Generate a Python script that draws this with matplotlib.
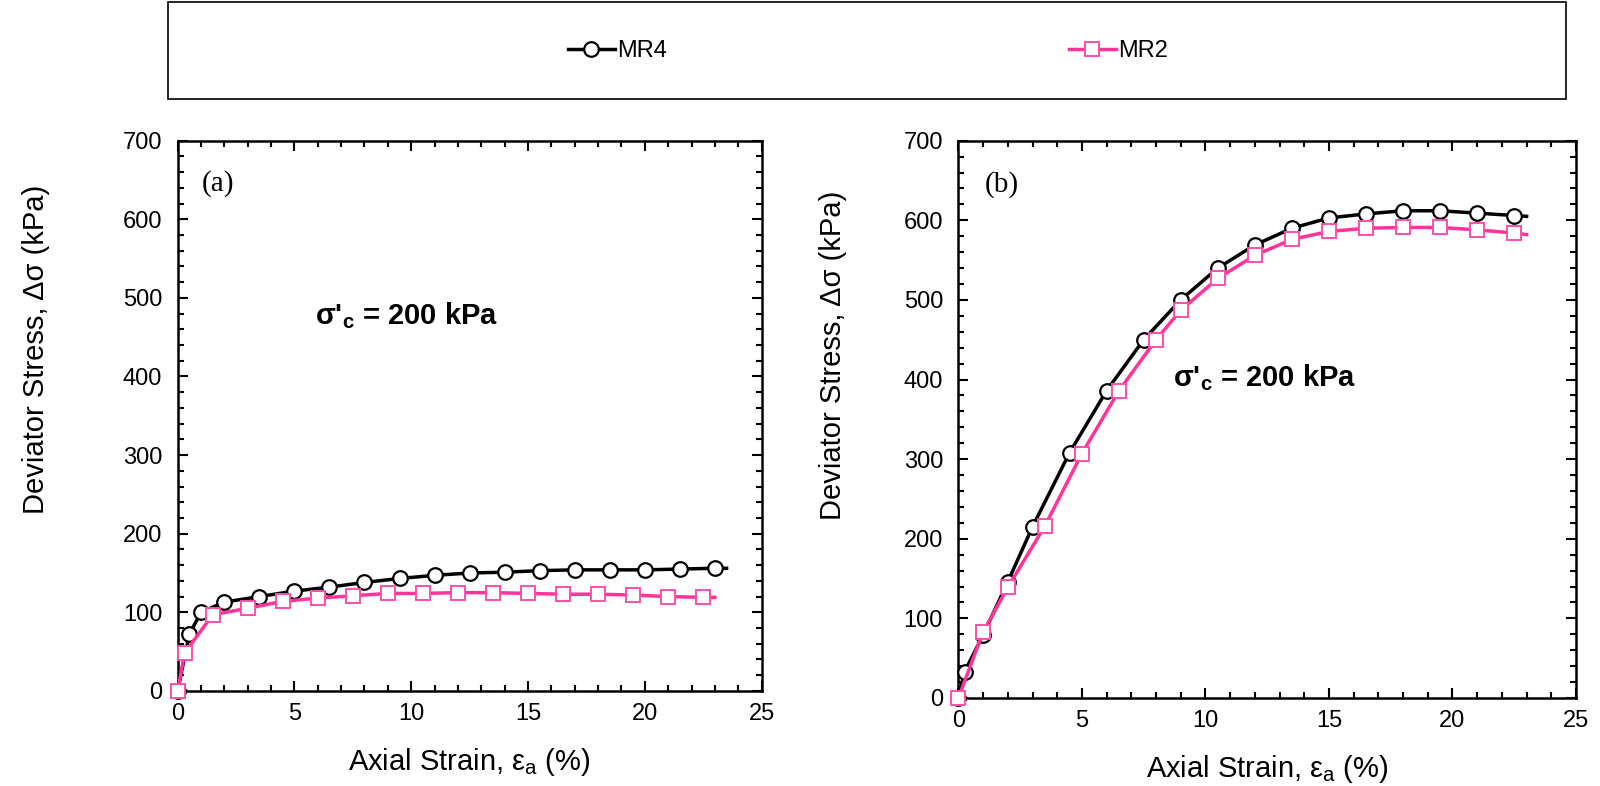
import matplotlib
matplotlib.use("Agg")
import matplotlib.pyplot as plt
from matplotlib.patches import Rectangle
from matplotlib.ticker import MultipleLocator

plt.rcParams['font.family'] = ['Liberation Sans', 'DejaVu Sans']
plt.rcParams['mathtext.fontset'] = 'custom'
plt.rcParams['mathtext.rm'] = 'Liberation Sans'
plt.rcParams['mathtext.bf'] = 'Liberation Sans:bold'
plt.rcParams['mathtext.it'] = 'Liberation Sans:italic'

# (a) data
a_mr4_x = [0, 0.5, 1, 2, 3.5, 5, 6.5, 8, 9.5, 11, 12.5, 14, 15.5, 17, 18.5, 20, 21.5, 23, 23.5]
a_mr4_y = [0, 72, 100, 113, 120, 127, 132, 138, 143, 147, 150, 151, 153, 154, 154, 154, 155, 156, 156]
a_mr2_x = [0, 0.3, 1.5, 3, 4.5, 6, 7.5, 9, 10.5, 12, 13.5, 15, 16.5, 18, 19.5, 21, 22.5, 23]
a_mr2_y = [0, 48, 97, 105, 114, 118, 121, 124, 124, 125, 125, 124, 123, 123, 122, 120, 119, 119]

# (b) data
b_mr4_x = [0, 0.25, 1, 2, 3, 4.5, 6, 7.5, 9, 10.5, 12, 13.5, 15, 16.5, 18, 19.5, 21, 22.5, 23]
b_mr4_y = [0, 33, 79, 146, 215, 308, 386, 450, 500, 540, 569, 590, 603, 608, 612, 612, 609, 606, 605]
b_mr2_x = [0, 1, 2, 3.5, 5, 6.5, 8, 9, 10.5, 12, 13.5, 15, 16.5, 18, 19.5, 21, 22.5, 23]
b_mr2_y = [0, 83, 139, 216, 307, 386, 450, 487, 527, 556, 576, 586, 590, 591, 591, 588, 584, 582]

black = '#000000'
pink = '#ff3399'

fig = plt.figure(figsize=(16, 7.86), dpi=100)
ax1 = fig.add_axes([0.111, 0.121, 0.365, 0.700])
ax2 = fig.add_axes([0.599, 0.112, 0.386, 0.709])


def draw(ax, x4, y4, x2, y2, tag, note_xy):
    n4 = len(x4) - 1
    n2 = len(x2) - 1
    ax.plot(x4, y4, '-', color=black, lw=2.5, marker='o', ms=10.5,
            mfc='white', mec=black, mew=1.6, markevery=list(range(n4)),
            label='MR4', zorder=3, clip_on=False)
    ax.plot(x2, y2, '-', color=pink, lw=2.5, marker='s', ms=10.5,
            mfc='white', mec='#ff4fa7', mew=1.4, markevery=list(range(n2)),
            label='MR2', zorder=4, clip_on=False)
    ax.set_xlim(0, 25)
    ax.set_ylim(0, 700)
    ax.xaxis.set_major_locator(MultipleLocator(5))
    ax.xaxis.set_minor_locator(MultipleLocator(1))
    ax.yaxis.set_major_locator(MultipleLocator(100))
    ax.yaxis.set_minor_locator(MultipleLocator(20))
    ax.tick_params(which='both', direction='in', top=True, right=True,
                   width=1.5, labelsize=17)
    ax.tick_params(which='major', length=7)
    ax.tick_params(which='minor', length=4.5)
    ax.tick_params(axis='x', pad=9)
    ax.tick_params(axis='y', pad=11)
    for s in ax.spines.values():
        s.set_linewidth(1.8)
    ax.set_xlabel(r'Axial Strain, ε$_\mathrm{a}$ (%)', fontsize=21, labelpad=15)
    ax.set_ylabel('Deviator Stress, Δσ (kPa)', fontsize=21)
    ax.text(1.05, 645, tag, fontsize=21, family='Liberation Serif', va='center')
    ax.text(note_xy[0], note_xy[1], "σ'$_\\mathbf{c}$ = 200 kPa", fontsize=21,
            fontweight='bold', ha='center', va='center')


draw(ax1, a_mr4_x, a_mr4_y, a_mr2_x, a_mr2_y, '(a)', (9.8, 477))
draw(ax2, b_mr4_x, b_mr4_y, b_mr2_x, b_mr2_y, '(b)', (12.4, 403))
ax1.yaxis.set_label_coords(-0.218, 0.62)
ax2.yaxis.set_label_coords(-0.18, 0.615)

# legend frame across the top
fig.patches.append(Rectangle((0.105, 0.874), 0.874, 0.123, transform=fig.transFigure,
                             fill=False, edgecolor='black', lw=1.2))
h, l = ax1.get_legend_handles_labels()
fig.legend(h, l, loc='center', bbox_to_anchor=(0.5425, 0.935), ncol=2,
           frameon=False, prop={'family': ['Liberation Sans Narrow', 'Liberation Sans'], 'size': 17},
           handlelength=2.0, handletextpad=0.1, columnspacing=17)

fig.savefig('out.png', dpi=100)
